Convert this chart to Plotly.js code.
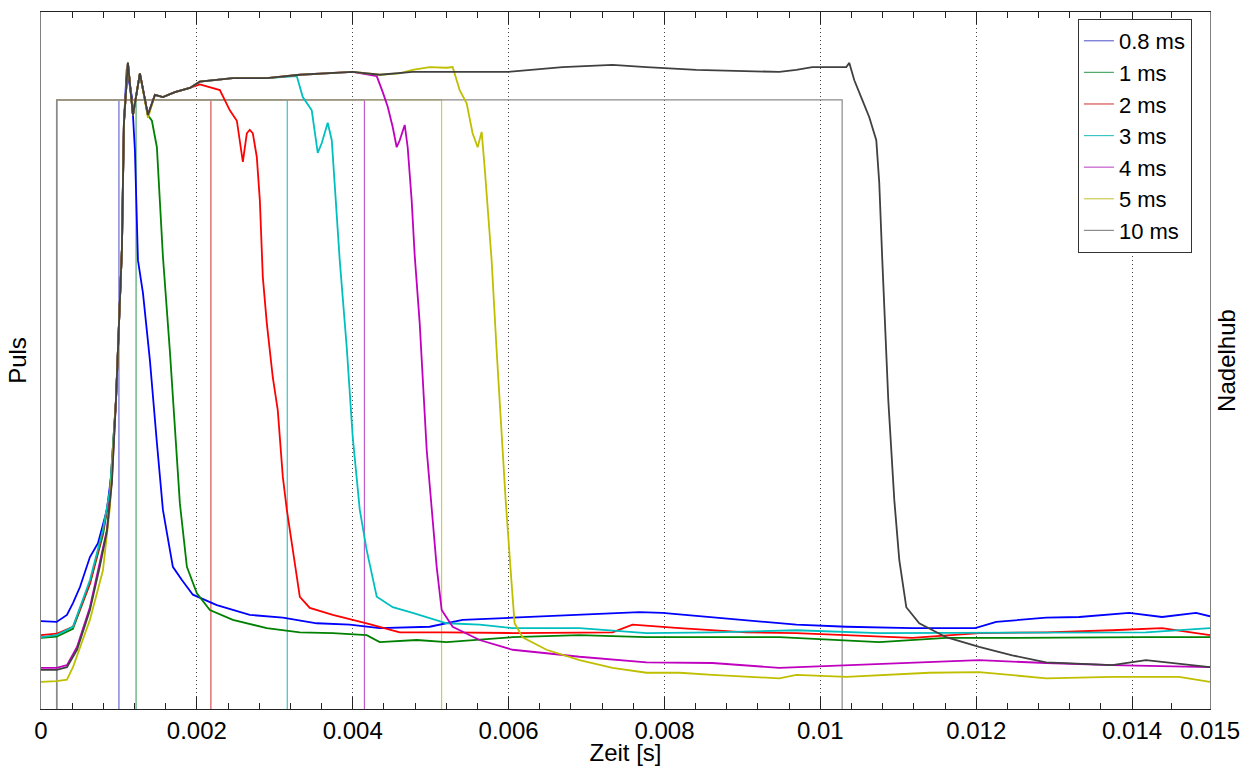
<!DOCTYPE html>
<html>
<head>
<meta charset="utf-8">
<script src="https://cdn.plot.ly/plotly-3.0.1.min.js"></script>
<style>
  html, body { margin: 0; padding: 0; background: #ffffff; }
  #chart { width: 1256px; height: 766px; }
</style>
</head>
<body>
<div id="chart"></div>
<script>
// ---------------- data (time in ms, lift in % of full scale) ----------------
const seriesNames = ['0.8 ms', '1 ms', '2 ms', '3 ms', '4 ms', '5 ms', '10 ms'];

// injection pulse: start and end times (ms), pulse levels (off / on)
const pulseStart = 0.2;
const pulseEnd = [1.0, 1.22, 2.18, 3.16, 4.15, 5.14, 10.28];
const pulseLow = 0;
const pulseHigh = 1;

// needle lift curves
const liftT_08 = [0,0.2,0.333,0.41,0.5,0.628,0.731,0.846,0.91,0.962,1.038,1.064,1.10,1.14,1.167,1.205,1.244,1.308,1.397,1.487,1.564,1.615,1.692,1.808,1.949,2.256,2.679,3.103,3.538,3.962,4.346,4.987,5.41,6.051,6.91,7.679,7.974,8.615,9.051,9.692,10.333,11.179,11.987,12.256,12.897,13.321,13.962,14.385,14.821,15.0];
const liftV_08 = [12.6,12.5,13.5,15.2,17.5,21.8,23.8,28.6,34.3,44.3,65.9,84.1,91.8,89.5,87.8,80.2,64.4,59.7,50.1,38.2,28.6,25.3,20.4,18.5,16.4,14.9,13.5,13.1,12.3,12.1,11.6,11.8,12.8,13.1,13.5,13.9,13.8,13.2,12.8,12.1,11.8,11.6,11.6,12.5,13.1,13.2,13.8,13.2,13.8,13.3];

const liftT_1 = [0,0.2,0.41,0.628,0.795,0.885,0.962,1.038,1.064,1.115,1.18,1.269,1.372,1.423,1.487,1.564,1.654,1.782,1.872,2.0,2.167,2.462,2.897,3.321,3.744,4.179,4.346,4.821,5.205,6.051,6.91,7.769,8.615,9.474,10.756,11.615,12.462,13.321,14.179,15.0];
const liftV_1 = [10.2,10.4,11.5,18.0,25.0,31.0,44.3,65.9,84.1,92.7,85.2,91.2,85.2,84.4,80.6,65.0,51.3,29.5,20.4,16.6,14.2,12.8,11.6,11.0,10.9,10.6,9.6,9.9,9.6,10.3,10.6,10.3,10.3,10.3,9.6,10.2,10.2,10.3,10.3,10.3];

const liftT_2 = [0,0.2,0.41,0.628,0.795,0.885,0.962,1.038,1.064,1.115,1.18,1.269,1.372,1.462,1.564,1.718,1.91,2.038,2.295,2.423,2.513,2.59,2.641,2.679,2.718,2.769,2.808,2.846,2.897,2.974,3.038,3.103,3.154,3.231,3.321,3.449,3.744,4.179,4.603,5.205,6.051,7.333,7.59,8.192,9.051,9.692,10.333,11.179,12.038,12.897,13.744,14.385,15.0];
const liftV_2 = [10.6,10.8,11.8,18.0,25.5,31.2,44.3,65.9,84.1,92.7,85.2,91.2,85.2,88.1,87.8,88.5,89.1,89.6,88.8,85.9,84.4,78.5,82.6,83.1,82.6,79.2,73.0,62.0,55.4,47.6,42.9,33.3,28.6,22.8,16.1,14.5,13.5,12.3,11.0,11.0,10.9,11.0,12.1,11.6,11.0,10.9,10.6,10.2,10.9,11.0,11.3,11.6,10.6];

const liftT_3 = [0,0.2,0.41,0.628,0.795,0.885,0.962,1.038,1.064,1.115,1.18,1.269,1.372,1.462,1.564,1.718,1.91,2.038,2.462,2.897,3.282,3.359,3.474,3.551,3.603,3.679,3.731,3.769,3.833,3.923,4.0,4.09,4.179,4.308,4.513,4.769,5.205,5.628,6.051,6.91,7.769,8.615,9.692,10.756,12.038,13.321,14.179,15.0];
const liftV_3 = [10.3,10.6,11.8,18.5,25.7,31.4,44.3,65.9,84.1,92.7,85.2,91.2,85.2,88.1,87.8,88.5,89.1,90.0,90.5,90.5,90.8,87.8,85.9,79.8,81.2,84.1,81.6,75.5,64.4,51.9,39.0,28.6,22.8,16.1,14.6,13.8,12.3,12.1,11.6,11.6,10.9,11.0,11.3,10.9,10.9,11.0,11.0,11.6];

const liftT_4 = [0,0.2,0.333,0.462,0.628,0.756,0.846,0.91,0.962,1.038,1.064,1.115,1.18,1.269,1.372,1.462,1.564,1.718,1.91,2.038,2.462,2.897,3.321,4.0,4.308,4.385,4.449,4.513,4.564,4.603,4.667,4.705,4.756,4.795,4.859,4.949,5.013,5.077,5.141,5.282,5.628,6.051,6.487,6.91,7.769,8.615,9.474,9.692,10.333,11.179,12.038,12.897,13.744,15.0];
const liftV_4 = [5.9,5.9,6.3,8.9,14.6,20.9,25.7,32.9,44.3,65.9,84.1,92.7,85.2,91.2,85.2,88.1,87.8,88.5,89.1,90.0,90.5,90.5,91.0,91.4,90.8,88.5,86.4,83.5,80.6,81.6,83.8,80.6,73.0,65.1,55.4,37.2,28.6,20.4,14.2,11.8,9.9,8.5,8.0,7.5,6.7,6.6,5.9,6.0,6.3,6.6,7.0,6.6,6.3,6.0];

const liftT_5 = [0,0.2,0.333,0.41,0.628,0.795,0.885,0.962,1.038,1.064,1.115,1.18,1.269,1.372,1.462,1.564,1.718,1.91,2.038,2.462,2.897,3.321,4.0,4.346,4.603,4.769,4.987,5.205,5.282,5.372,5.462,5.538,5.603,5.654,5.692,5.731,5.782,5.846,5.91,5.962,6.038,6.077,6.179,6.487,6.91,7.333,7.769,8.192,8.615,9.474,9.692,10.333,11.397,12.038,12.897,13.744,14.603,15.0];
const liftV_5 = [3.9,4.0,4.2,6.0,12.8,19.9,29.0,44.3,65.9,84.1,92.7,85.2,91.2,84.8,88.1,87.8,88.5,89.1,90.0,90.5,90.5,91.0,91.4,91.0,91.2,91.7,92.1,92.0,92.1,88.8,86.9,82.6,80.6,82.8,77.8,72.0,64.4,51.5,39.0,30.0,18.1,12.3,10.3,8.5,7.0,5.9,5.2,5.2,4.9,4.4,4.9,4.6,5.2,5.3,4.4,4.6,4.6,3.9];

const liftT_10 = [0,0.2,0.333,0.462,0.628,0.756,0.846,0.91,0.962,1.038,1.064,1.115,1.18,1.269,1.372,1.462,1.564,1.718,1.91,2.038,2.462,2.897,3.321,4.0,4.346,4.603,4.769,5.205,5.987,6.692,7.333,7.769,8.41,9.474,9.692,9.897,10.333,10.372,10.436,10.538,10.628,10.718,10.756,10.795,10.872,10.949,11.013,11.103,11.269,11.615,12.038,12.462,12.897,13.744,14.179,15.0];
const liftV_10 = [5.6,5.6,6.0,8.5,14.2,20.5,25.5,32.5,44.3,65.9,84.1,92.7,85.2,91.2,85.2,88.1,87.8,88.5,89.1,90.0,90.5,90.5,91.0,91.4,91.0,91.2,91.4,91.4,91.4,92.1,92.4,92.1,91.7,91.4,91.7,92.1,92.1,92.7,90.2,87.4,84.9,81.6,75.5,64.4,44.3,30.0,21.4,14.6,12.3,10.3,8.9,7.7,6.7,6.3,7.0,6.0];

const liftT = [liftT_08, liftT_1, liftT_2, liftT_3, liftT_4, liftT_5, liftT_10];
const liftV = [liftV_08, liftV_1, liftV_2, liftV_3, liftV_4, liftV_5, liftV_10];

// x axis tick labels
const tickVals = [0, 0.002, 0.004, 0.006, 0.008, 0.01, 0.012, 0.014, 0.015];
const tickText = ['0', '0.002', '0.004', '0.006', '0.008', '0.01', '0.012', '0.014', '0.015'];
const minorTickVals = [0.0004,0.0008,0.0012,0.0016,0.0024,0.0028,0.0032,0.0036,0.0044,0.0048,0.0052,0.0056,0.0064,0.0068,0.0072,0.0076,0.0084,0.0088,0.0092,0.0096,0.0104,0.0108,0.0112,0.0116,0.0124,0.0128,0.0132,0.0136,0.0145];

// ---------------- styles ----------------
const liftColors  = ['#0000ff', '#008000', '#ff0000', '#00bfbf', '#bf00bf', '#bfbf00', '#404040'];
const pulseColors = ['#6a6ad2', '#4fa868', '#d85050', '#3cc4c4', '#c25ccc', '#cccc50', '#8a8a8a'];

const FONT = 'Liberation Sans, Arial, Helvetica, sans-serif';
const ms = v => v / 1000;

const traces = [];
// pulses (left axis)
for (let i = 0; i < seriesNames.length; i++) {
  traces.push({
    type: 'scatter', mode: 'lines',
    name: seriesNames[i], legendgroup: seriesNames[i],
    x: [0, pulseStart, pulseStart, pulseEnd[i], pulseEnd[i], 15].map(ms),
    y: [pulseLow, pulseLow, pulseHigh, pulseHigh, pulseLow, pulseLow],
    line: { color: pulseColors[i], width: 1.2 },
    xaxis: 'x', yaxis: 'y', hoverinfo: 'skip'
  });
}
// needle lift (right axis)
for (let i = 0; i < seriesNames.length; i++) {
  traces.push({
    type: 'scatter', mode: 'lines',
    name: seriesNames[i], legendgroup: seriesNames[i], showlegend: false,
    x: liftT[i].map(ms), y: liftV[i],
    line: { color: liftColors[i], width: 1.8 },
    xaxis: 'x', yaxis: 'y2', hoverinfo: 'skip'
  });
}

const layout = {
  width: 1256, height: 766,
  margin: { l: 41, r: 46, t: 12, b: 57, pad: 0 },
  paper_bgcolor: '#ffffff', plot_bgcolor: '#ffffff',
  font: { family: FONT, size: 24, color: '#000000' },
  showlegend: true,
  legend: {
    x: 0.887, y: 0.99, xanchor: 'left', yanchor: 'top',
    bgcolor: '#ffffff', bordercolor: '#333333', borderwidth: 1,
    font: { family: FONT, size: 22, color: '#000000' },
    tracegroupgap: 0, itemwidth: 30
  },
  xaxis: {
    range: [0, 0.015], autorange: false,
    tickmode: 'array', tickvals: tickVals, ticktext: tickText,
    ticks: 'inside', ticklen: 12, tickwidth: 1, tickcolor: '#222222',
    showline: true, linecolor: '#222222', linewidth: 1, mirror: 'ticks',
    showgrid: true, gridcolor: '#444444', griddash: '1px,3px', gridwidth: 1,
    zeroline: false,
    tickfont: { family: FONT, size: 24, color: '#000000' },
    minor: { tickmode: 'array', tickvals: minorTickVals, ticks: 'inside', ticklen: 6, tickcolor: '#222222', showgrid: false },
    title: { text: 'Zeit [s]', font: { family: FONT, size: 24, color: '#000000' }, standoff: 2 }
  },
  yaxis: {
    range: [0.01, 1.1429], autorange: false,
    showticklabels: false, ticks: '', showgrid: false, zeroline: false,
    showline: true, linecolor: '#808080', linewidth: 1,
    title: { text: 'Puls', font: { family: FONT, size: 24, color: '#000000' }, standoff: 6 }
  },
  yaxis2: {
    range: [0, 100], autorange: false, overlaying: 'y', side: 'right',
    showticklabels: false, ticks: '', showgrid: false, zeroline: false,
    showline: true, linecolor: '#808080', linewidth: 1,
    title: { text: 'Nadelhub', font: { family: FONT, size: 24, color: '#000000' }, standoff: 8 }
  }
};

Plotly.newPlot('chart', traces, layout, { staticPlot: true, displayModeBar: false });
</script>
</body>
</html>
